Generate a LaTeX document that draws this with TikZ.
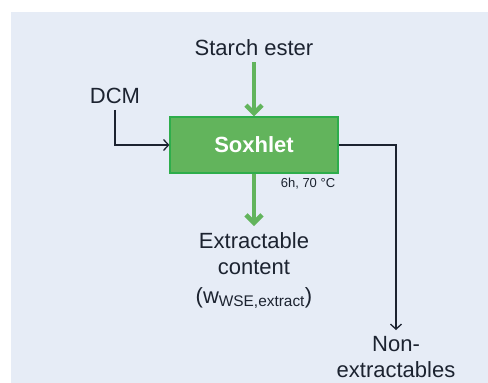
\documentclass[tikz,border=0pt]{standalone}
\usepackage{fontspec}
\setmainfont{Liberation Sans}
\usetikzlibrary{arrows.meta}
\usetikzlibrary{positioning}

\definecolor{bgblue}{HTML}{E6ECF6}
\definecolor{soxgreen}{HTML}{62B45C}
\definecolor{soxedge}{HTML}{2EAD4B}
\definecolor{inktext}{HTML}{1C2330}

\begin{document}
\begin{tikzpicture}[x=1pt,y=-1pt,
    font=\fontsize{22}{26}\selectfont,
    txt/.style={text=inktext,inner sep=6pt,align=center},
    procbox/.style={rectangle,draw=soxedge,fill=soxgreen,line width=1.2pt,
      minimum width=168pt,minimum height=56pt,text=white,font=\fontsize{22}{26}\selectfont\bfseries},
    feed/.style={draw=soxgreen,line width=4.5pt,-{Straight Barb[length=8pt,width=16pt]}},
    flow/.style={draw=inktext,line width=1.3pt,-{Straight Barb[length=5pt,width=11pt]}}]
  % page and backdrop
  \useasboundingbox (0,0) rectangle (488,383);
  \fill[bgblue] (11,12) rectangle (488,383);

  % extraction unit
  \node[procbox] (sox) at (254,145) {Soxhlet};
  \node[text=inktext,font=\fontsize{13}{15}\selectfont,inner sep=0pt] (cond) at (308,184) {6h, 70 °C};

  \node[txt] (ester) at (254,48) {Starch ester};
  \node[txt] (dcm) at (115,96) {DCM};
  \node[txt,anchor=north] (extr) at (254,226)
    {Extractable\\content\\[3pt](w\textsubscript{WSE,extract})};
  \node[txt,anchor=north] (nonex) at (396,330) {Non-\\extractables};

  \path[feed]
    (ester) edge (sox)
    (sox) edge (extr);
  \draw[flow] (dcm.south) |- (sox.west);
  \draw[flow] (sox.east) -| (nonex.north);
\end{tikzpicture}
\end{document}
